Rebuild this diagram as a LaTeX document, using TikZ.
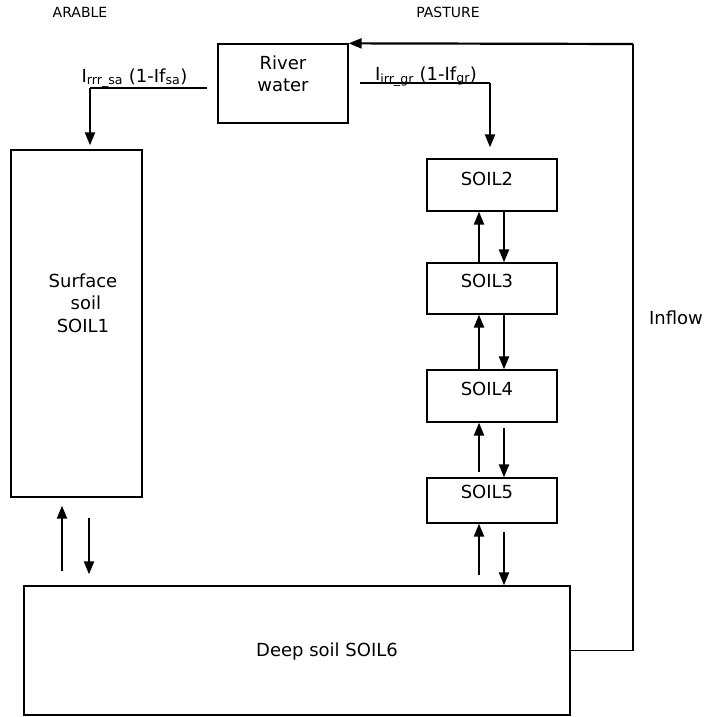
\documentclass[tikz,border=0pt]{standalone}
\usepackage{fontspec}
\setmainfont{DejaVu Sans}
\usetikzlibrary{arrows.meta}

\begin{document}
\begin{tikzpicture}[x=1pt,y=-1pt,>={Triangle[length=13pt,width=10pt]},
    box/.style={draw,line width=1.3pt,inner sep=0pt},
    txt/.style={font=\fontsize{18}{22.5}\selectfont,align=center,anchor=base,inner sep=0pt},
    head/.style={font=\fontsize{14}{16}\selectfont,anchor=base,inner sep=0pt},
    flow/.style={->,line width=2.2pt},
    pipe/.style={line width=1.1pt}]
  \useasboundingbox (0,0) rectangle (707,717);
  \node[head] (arable)  at (80,18)  {ARABLE};
  \node[head] (pasture) at (448,18) {PASTURE};
  % boxes
  \node[box,minimum width=130pt,minimum height=79pt]  (river) at (283,83.5)  {};
  \node[box,minimum width=131pt,minimum height=347pt] (soil1) at (76.5,323.5) {};
  \node[box,minimum width=130pt,minimum height=52pt]  (soil2) at (492,185)   {};
  \node[box,minimum width=130pt,minimum height=51pt]  (soil3) at (492,288.5) {};
  \node[box,minimum width=130pt,minimum height=52pt]  (soil4) at (492,396)   {};
  \node[box,minimum width=130pt,minimum height=45pt]  (soil5) at (492,500.5) {};
  \node[box,minimum width=546pt,minimum height=129pt] (soil6) at (297,650.5) {};
  % texts
  \node[txt] (triver) at (283,92)  {River\\water};
  \node[txt] (tsoil1) at (83,332)  {Surface\\\ soil\\SOIL1};
  \node[txt] (tsoil2) at (487,185) {SOIL2};
  \node[txt] (tsoil3) at (487,287) {SOIL3};
  \node[txt] (tsoil4) at (487,395) {SOIL4};
  \node[txt] (tsoil5) at (487,498) {SOIL5};
  \node[txt] (tsoil6) at (327,656) {Deep soil SOIL6};
  \node[txt] (lsa)    at (134.5,82) {I\textsubscript{rrr\_sa} (1-If\textsubscript{sa})};
  \node[txt] (lgr)    at (426,80)   {I\textsubscript{irr\_gr} (1-If\textsubscript{gr})};
  \node[txt] (linflow) at (676,324) {Inflow};
  % irrigation
  \coordinate (sa1) at (207,88);
  \coordinate (sa2) at (90,88);
  \draw[pipe] (sa1) -- (sa2);
  \draw[flow] (sa2) -- ([yshift=4pt]soil1.north -| sa2);
  \coordinate (gr1) at (360,83);
  \coordinate (gr2) at (490,83);
  \draw[pipe] (gr1) -- (gr2);
  \draw[flow] (gr2) -- ([yshift=11pt]soil2.north -| gr2);
  % exchange between layers
  \draw[flow] ([xshift=-13pt]soil3.north) -- ([xshift=-13pt]soil2.south);
  \draw[flow] ([xshift=12pt]soil2.south) -- ([xshift=12pt]soil3.north);
  \draw[flow] ([xshift=-13pt]soil4.north) -- ([xshift=-13pt]soil3.south);
  \draw[flow] ([xshift=12pt]soil3.south) -- ([xshift=12pt]soil4.north);
  \draw[flow] ([xshift=-13pt,yshift=5pt]soil5.north) -- ([xshift=-13pt]soil4.south);
  \draw[flow] ([xshift=12pt,yshift=-5pt]soil4.south) -- ([xshift=12pt]soil5.north);
  \draw[flow] ([xshift=-13pt,yshift=10pt]soil5.south |- soil6.north) -- ([xshift=-13pt]soil5.south);
  \draw[flow] ([xshift=12pt,yshift=-8pt]soil5.south) -- ([xshift=12pt]soil5.south |- soil6.north);
  \draw[flow] ([xshift=-14.5pt,yshift=14pt]soil1.south |- soil6.north) -- ([xshift=-14.5pt,yshift=-8pt]soil1.south);
  \draw[flow] ([xshift=12.5pt,yshift=-20pt]soil1.south) -- ([xshift=12.5pt,yshift=11pt]soil1.south |- soil6.north);
  % inflow back to the river
  \coordinate (in1) at (633,44);
  \draw[pipe] (soil6.east) -| (in1);
  \draw[flow] (in1) -- (river.north east);
\end{tikzpicture}
\end{document}
